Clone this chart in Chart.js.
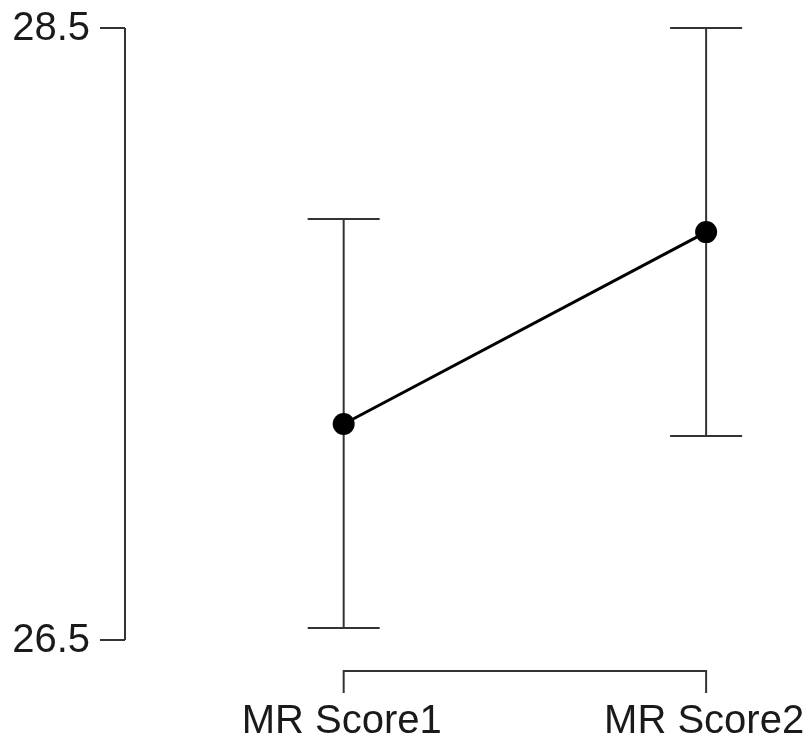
<!DOCTYPE html>
<html>
<head>
<meta charset="utf-8">
<script src="https://cdn.jsdelivr.net/npm/chart.js@4"></script>
<style>
  html, body { margin: 0; padding: 0; background: #fff; }
  #wrap { width: 812px; height: 744px; }
</style>
</head>
<body>
<div id="wrap"><canvas id="myChart" width="812" height="744"></canvas></div>
<script>
const categories = ['MR Score1', 'MR Score2'];
const means = [27.206, 27.833];
const lowerCI = [26.539, 27.167];
const upperCI = [27.876, 28.5];
const yTicks = [26.5, 28.5];

const FONT = '40px "Liberation Sans", Arial, sans-serif';

// axes drawn JASP-style (detached y axis, bracket under the categories)
const jaspAxes = {
    id: 'jaspAxes',
    beforeDatasetsDraw(chart) {
        const ctx = chart.ctx;
        const x = chart.scales.x;
        const y = chart.scales.y;
        const left = chart.chartArea.left;
        ctx.save();
        ctx.strokeStyle = '#333';
        ctx.lineWidth = 2;
        ctx.fillStyle = '#1a1a1a';
        ctx.font = FONT;

        // y axis
        ctx.beginPath();
        ctx.moveTo(left, y.getPixelForValue(yTicks[0]));
        ctx.lineTo(left, y.getPixelForValue(yTicks[yTicks.length - 1]));
        ctx.stroke();
        ctx.textAlign = 'right';
        ctx.textBaseline = 'middle';
        yTicks.forEach(v => {
            const py = y.getPixelForValue(v);
            ctx.beginPath();
            ctx.moveTo(left - 25, py);
            ctx.lineTo(left, py);
            ctx.stroke();
            ctx.fillText(v.toFixed(1), left - 35, py + 1);
        });

        // x bracket
        const x0 = x.getPixelForValue(1);
        const x1 = x.getPixelForValue(categories.length);
        const by = 671;
        ctx.beginPath();
        ctx.moveTo(x0, by + 22);
        ctx.lineTo(x0, by);
        ctx.lineTo(x1, by);
        ctx.lineTo(x1, by + 22);
        ctx.stroke();
        ctx.textAlign = 'center';
        ctx.textBaseline = 'alphabetic';
        categories.forEach((c, i) => {
            ctx.fillText(c, x.getPixelForValue(i + 1) - 2, 733);
        });

        // error bars
        categories.forEach((c, i) => {
            const px = x.getPixelForValue(i + 1);
            const lo = y.getPixelForValue(lowerCI[i]);
            const hi = y.getPixelForValue(upperCI[i]);
            ctx.beginPath();
            ctx.moveTo(px, lo);
            ctx.lineTo(px, hi);
            ctx.moveTo(px - 36, lo);
            ctx.lineTo(px + 36, lo);
            ctx.moveTo(px - 36, hi);
            ctx.lineTo(px + 36, hi);
            ctx.stroke();
        });
        ctx.restore();
    }
};

const ctx = document.getElementById('myChart').getContext('2d');
const myChart = new Chart(ctx, {
    type: 'line',
    data: {
        datasets: [{
            data: means.map((m, i) => ({ x: i + 1, y: m })),
            borderColor: '#000',
            backgroundColor: '#000',
            borderWidth: 3,
            pointRadius: 11,
            pointBackgroundColor: '#000',
            pointBorderWidth: 0,
            tension: 0
        }]
    },
    options: {
        responsive: false,
        animation: false,
        layout: { padding: { left: 125, top: 28, right: 22, bottom: 104 } },
        plugins: { legend: { display: false }, tooltip: { enabled: false } },
        scales: {
            x: { type: 'linear', min: 0.3967, max: 2.2314, display: false },
            y: { min: 26.5, max: 28.5, display: false }
        }
    },
    plugins: [jaspAxes]
});
</script>
</body>
</html>
